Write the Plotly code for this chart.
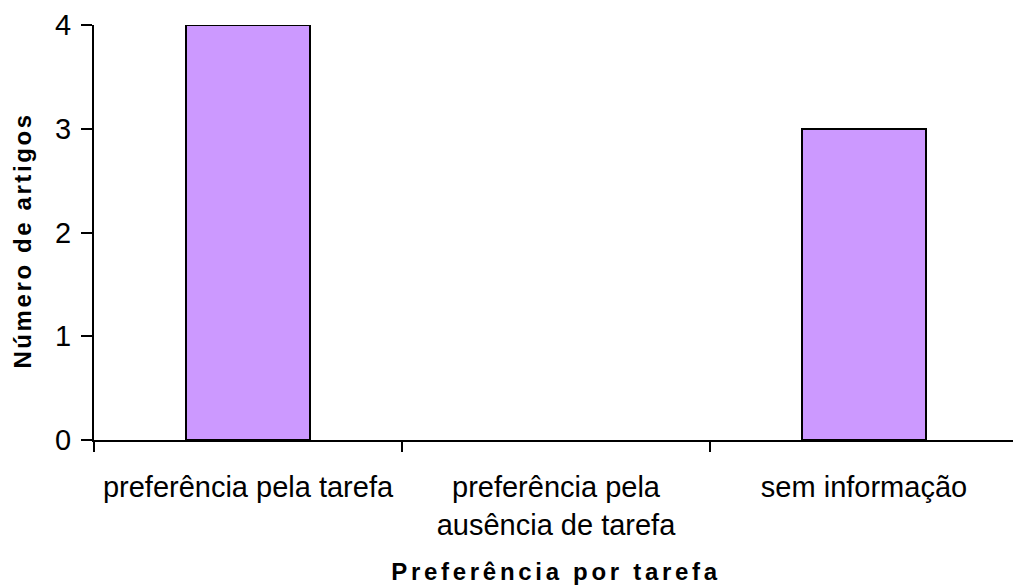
import plotly.graph_objects as go

categories = ["preferência pela tarefa", "preferência pela<br>ausência de tarefa", "sem informação"]
values = [4, 0, 3]
y_ticks = [0, 1, 2, 3, 4]
x_title = "Preferência por tarefa"
y_title = "Número de artigos"

fig = go.Figure()
fig.add_trace(go.Bar(
    x=list(range(len(categories))),
    y=values,
    width=0.4,
    marker=dict(color="#CC99FF",
                line=dict(color="black", width=[2 if v > 0 else 0 for v in values])),
))

fig.update_layout(
    width=1013, height=585,
    margin=dict(l=94, r=0, t=25, b=145),
    plot_bgcolor="white", paper_bgcolor="white",
    showlegend=False,
    font=dict(family="Liberation Sans, Arial, sans-serif", color="black"),
    bargap=0,
)

fig.update_xaxes(
    type="linear",
    range=[-0.5, -0.5 + 919 / 308],
    tickmode="array",
    tickvals=list(range(len(categories))),
    ticktext=categories,
    ticks="",
    showline=True, linecolor="black", linewidth=2,
    showgrid=False, zeroline=False,
    tickfont=dict(size=29),
    ticklabelstandoff=20,
)
# boundary tick marks
fig.update_layout(xaxis2=dict(
    overlaying="x", matches="x", anchor="y",
    tickmode="array", tickvals=[-0.5, 0.5, 1.5, 2.5],
    ticks="outside", ticklen=11, tickwidth=2, tickcolor="black",
    showticklabels=False, showgrid=False, zeroline=False, showline=False,
    side="bottom",
))
fig.add_trace(go.Scatter(x=[0], y=[0], xaxis="x2", mode="markers",
                         marker=dict(opacity=0), hoverinfo="skip"))

fig.update_yaxes(
    range=[0, 4],
    tickmode="array", tickvals=y_ticks,
    ticks="outside", ticklen=11, tickwidth=2, tickcolor="black",
    showline=True, linecolor="black", linewidth=2,
    showgrid=False, zeroline=False,
    tickfont=dict(size=29),
    ticklabelstandoff=4,
)

fig.add_annotation(
    text=x_title, xref="x", x=1, yref="paper", y=0, yanchor="middle",
    yshift=-131, showarrow=False,
    font=dict(size=24, family="Liberation Sans, Arial, sans-serif", weight="bold"),
)
fig.add_annotation(
    text=y_title, xref="paper", x=0, xanchor="center", xshift=-72,
    yref="paper", y=0.5, yanchor="middle", yshift=-8, textangle=-90,
    showarrow=False,
    font=dict(size=24, family="Liberation Sans, Arial, sans-serif", weight="bold"),
)

post = """
var els = document.querySelectorAll('.annotation-text');
els.forEach(function(e){ e.style.letterSpacing = (e.textContent.indexOf('Prefer')===0 ? '3.7px' : '2.6px'); });
"""
fig.write_html("out.html", post_script=post)
